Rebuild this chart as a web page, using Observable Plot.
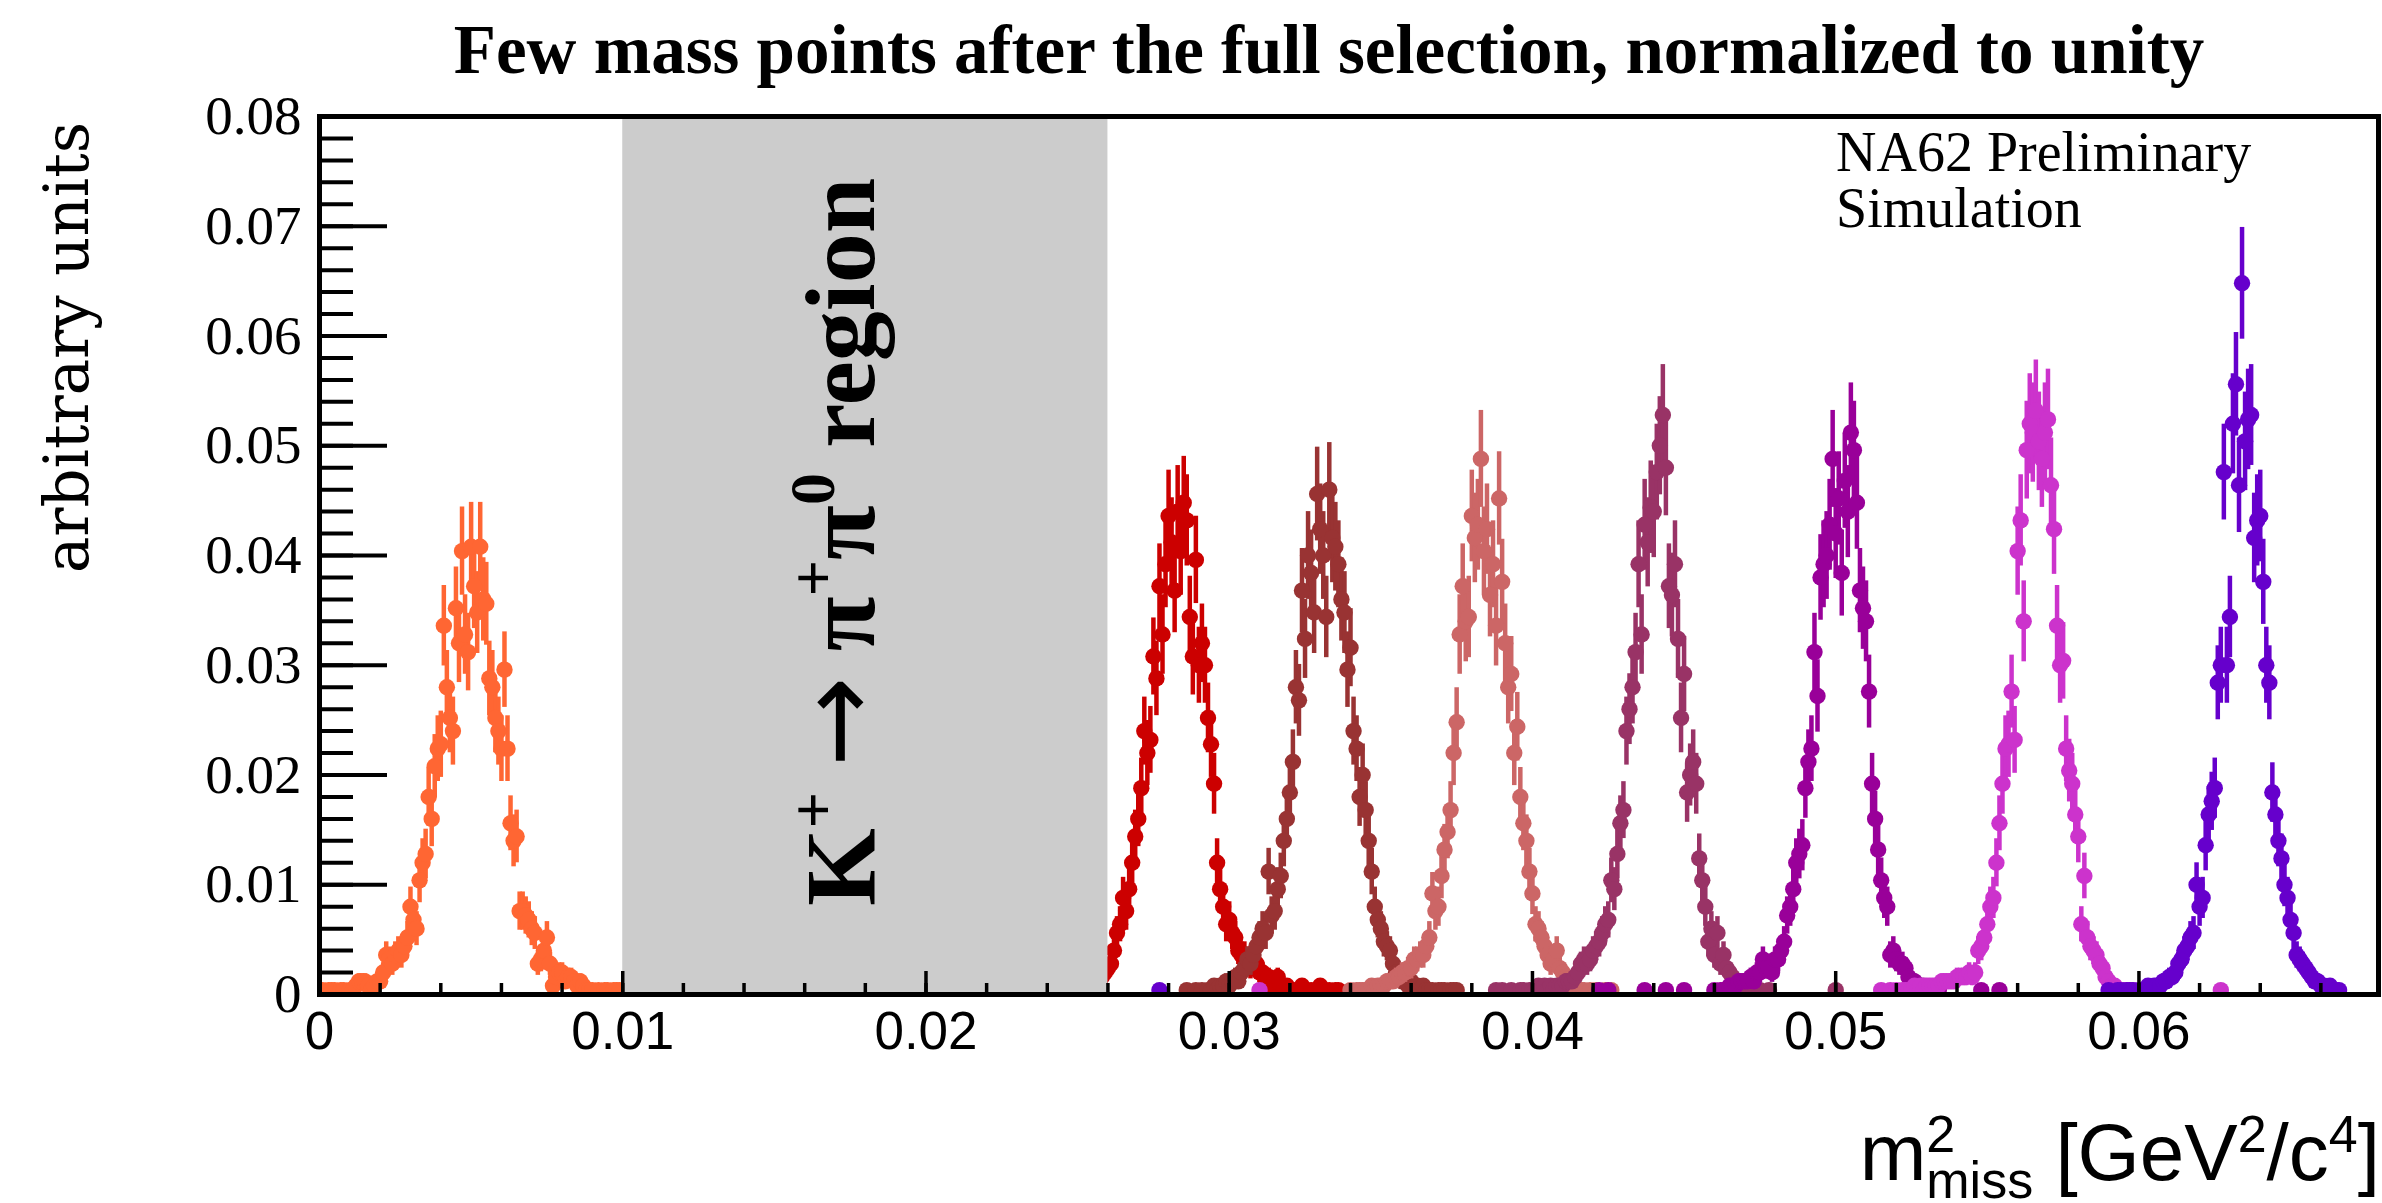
<!DOCTYPE html>
<html>
<head>
<meta charset="utf-8">
<script src="https://cdn.jsdelivr.net/npm/d3@7"></script>
<script src="https://cdn.jsdelivr.net/npm/@observablehq/plot@0.6"></script>
<style>
  html, body { margin: 0; padding: 0; background: #ffffff; overflow: hidden; }
  #title {
    height: 100px; width: 2382px; box-sizing: border-box;
    padding-left: 276px; padding-top: 16px;
    text-align: center; white-space: nowrap;
    font-family: "Liberation Serif", serif; font-weight: bold; font-size: 69px; line-height: 1;
    color: #000;
  }
  #chart svg { display: block; }
</style>
</head>
<body>
<div id="title">Few mass points after the full selection, normalized to unity</div>
<div id="chart"></div>
<script>
// ---------------- data ----------------
const binWidth = 0.0001;          // GeV^2/c^4 per bin
const eventWeight = 0.0004;       // normalized weight of one simulated event (from error-bar sizes)

const seriesColors = ["#ff6633", "#cc0000", "#993333", "#cc6666", "#993366", "#990099", "#cc33cc", "#6600cc"];
const seriesFirstBin = [0, 258, 286, 340, 388, 460, 515, 590];

// event counts per bin, consecutive bins starting at seriesFirstBin
const countsMass1 = [1,1,0,1,1,1,0,1,1,0, 1,1,2,3,3,3,2,1,2,3, 3,5,9,8,7,9,10,9,11,13, 20,17,15,26,30,32,45,40,52,56,
  57,84,70,63,60,88,80,101,82,78, 102,93,87,102,90,89,72,70,63,60, 56,74,56,39,35,36,19,19,18,17,
  15,14,7,8,10,13,7,2,4,5, 5,3,4,4,3,2,3,2,1,1, 1,0,1,0,1,1,0,1,1,1];
const countsMass2 = [4,5,6,7,10,14,16,22,19,24, 30,36,40,47,60,55,58,77,72,93, 82,98,109,103,92,110,101,112,108,86,
  77,99,75,80,75,63,57,48,30,24, 20,16,17,14,13,10,9,9,8,6, 8,7,5,5,3,4,2,3,4,2, 1,2,1,0,1,1,2,1,0,1, 0,1,2,1,0,1,0,1,1];
const countsMass3 = [1,0,0,1,0,1,0,1,1,2, 1,2,2,3,2,3,4,3,5,6, 8,7,9,11,13,15,14,28,18,19, 24,27,35,40,46,53,70,67,92,81,
  100,96,87,114,106,100,86,115,104,102, 98,90,87,74,79,60,56,45,50,42, 35,28,20,17,15,12,11,10,7,5,
  4,3,4,2,3,2,2,1,2,1, 1,1,0,1,1,1,0,1,1,1];
const countsMass4 = [1,0,1,1,1,1,1,2,1,2, 2,2,3,3,3,4,4,5,5,6, 6,8,8,9,9,11,13,23,19,20, 27,33,37,42,55,62,82,93,85,86,
  109,104,107,122,101,106,91,98,84,113, 94,80,70,73,55,61,45,39,35,28, 23,16,15,13,11,9,7,8,10,6,
  5,4,3,2,2,1,1,1,0,1, 0,1,0,0,1,0,1];
const countsMass5 = [1,0,1,0,0,1,0,0,1,1, 0,1,1,1,2,1,2,1,2,1, 2,2,2,3,3,3,4,5,7,8, 7,8,10,11,12,14,16,17,26,24,
  32,39,42,60,65,70,78,98,82,107, 103,111,110,119,125,132,120,93,91,98, 81,63,73,46,50,53,48,31,26,20,
  12,15,9,14,7,9,6,5,4,3, 2,2,1,1,0,1,0,1,0,0, 1];
const countsMass6 = [1,0,1,1,1,2,2,2,3,3, 3,3,4,3,5,5,8,6,6,5, 8,8,10,12,18,20,24,30,32,34, 47,53,56,78,68,95,98,100,107,122,
  105,113,96,117,110,128,124,112,92,88, 85,69,48,40,33,26,22,20,9,10, 8,7,7,6,4,3,3,2,2,2, 1,1,1,0,1];
const countsMass7 = [1,0,0,1,0,1,0,1,1,1, 1,2,1,2,1,2,2,2,2,2, 3,3,3,3,3,4,4,4,4,5, 4,5,10,11,13,16,20,22,30,39,
  48,56,57,69,58,101,108,85,124,130, 128,133,126,122,128,131,116,106,84,75, 76,56,51,48,41,36,16,27,13,11,
  10,9,7,6,4,3,2,2,1,1, 1,1,0,1];
const countsMass8 = [1,0,0,1,1,0,1,1,1,0, 1,1,1,2,1,2,2,2,3,3, 4,4,5,7,8,10,11,13,14,25, 20,22,34,41,44,47,71,75,119,75,
  86,130,139,116,162,126,131,132,104,108, 109,94,75,71,46,41,35,31,25,22, 17,14,9,8,7,6,5,4,3,3,
  2,2,1,2,1,1,1];
const seriesCounts = [countsMass1, countsMass2, countsMass3, countsMass4, countsMass5, countsMass6, countsMass7, countsMass8];

// isolated single-event bins far from the peaks
const strayEntrySeries = [5, 5, 5, 5, 5, 5, 5, 6, 6, 7, 4];
const strayEntryBin    = [422, 425, 437, 444, 450, 548, 554, 310, 627, 277, 500];

const shadedRegion = [0.010, 0.026];
const xTickValues = [0, 0.01, 0.02, 0.03, 0.04, 0.05, 0.06];
const xTickLabels = ["0", "0.01", "0.02", "0.03", "0.04", "0.05", "0.06"];
const yTickValues = [0, 0.01, 0.02, 0.03, 0.04, 0.05, 0.06, 0.07, 0.08];
const yTickLabels = ["0", "0.01", "0.02", "0.03", "0.04", "0.05", "0.06", "0.07", "0.08"];
const xDomain = [0, 0.0679];
const yDomain = [0, 0.08];
const regionLabelPos = [0.0183, 0.0412];

// ---------------- build ----------------
function entry(bin, c) {
  const y = c * eventWeight, e = Math.sqrt(c) * eventWeight;
  return {x: bin * binWidth, y, lo: y - e, hi: y + e};
}
const seriesPoints = seriesCounts.map((counts, k) => {
  const pts = [];
  counts.forEach((c, i) => { if (c > 0) pts.push(entry(seriesFirstBin[k] + i, c)); });
  strayEntrySeries.forEach((s, j) => { if (s === k) pts.push(entry(strayEntryBin[j], 1)); });
  return pts;
});

const xMinor = d3.range(0, 34).map(i => i * 0.002);
const yMinor = d3.range(0, 41).map(i => i * 0.002);

const marks = [];
seriesPoints.forEach((pts, k) => {
  marks.push(Plot.ruleX(pts, {x: "x", y1: "lo", y2: "hi", stroke: seriesColors[k], strokeWidth: 4.5, clip: true}));
  marks.push(Plot.dot(pts, {x: "x", y: "y", r: 8.2, fill: seriesColors[k], clip: true}));
});
marks.push(Plot.rect([shadedRegion], {x1: d => d[0], x2: d => d[1], y1: yDomain[0], y2: yDomain[1], fill: "#cccccc"}));
// ticks (inside, ROOT style)
marks.push(Plot.ruleX(xMinor, {x: d => d, y1: 0, y2: 0, insetTop: -11, stroke: "#000", strokeWidth: 3.5}));
marks.push(Plot.ruleX(xTickValues, {x: d => d, y1: 0, y2: 0, insetTop: -23, stroke: "#000", strokeWidth: 3.5}));
marks.push(Plot.ruleY(yMinor, {y: d => d, x1: 0, x2: 0, insetRight: -34, stroke: "#000", strokeWidth: 4}));
marks.push(Plot.ruleY(yTickValues, {y: d => d, x1: 0, x2: 0, insetRight: -68, stroke: "#000", strokeWidth: 4}));
marks.push(Plot.frame({stroke: "#000", strokeWidth: 5}));
// tick labels
marks.push(Plot.text(xTickValues, {x: d => d, y: 0, text: (d, i) => xTickLabels[i], dy: 17, lineAnchor: "top",
  fontSize: 53, fontFamily: "Liberation Sans, Arial, sans-serif", fill: "#000"}));
marks.push(Plot.text(yTickValues, {x: 0, y: d => d, text: (d, i) => yTickLabels[i], dx: -18, textAnchor: "end",
  fontSize: 55, fontFamily: "Liberation Serif, serif", fill: "#000"}));

const W = 2382, H = 1103;
const plot = Plot.plot({
  width: W, height: H,
  marginLeft: 319, marginRight: 4, marginTop: 16, marginBottom: 209,
  x: {domain: xDomain, axis: null},
  y: {domain: yDomain, axis: null},
  style: {background: "#ffffff", overflow: "visible"},
  marks
});
document.getElementById("chart").appendChild(plot);

// ---------------- annotations with super/subscripts ----------------
const svg = d3.select(plot);
const sx = plot.scale("x"), sy = plot.scale("y");

// K+ -> pi+ pi0 region (rotated, bold)
const kx = sx.apply(regionLabelPos[0]), ky = sy.apply(regionLabelPos[1]);
const kt = svg.append("text")
  .attr("transform", `translate(${kx},${ky}) rotate(-90)`)
  .attr("text-anchor", "middle")
  .attr("font-family", "Liberation Serif, serif")
  .attr("font-weight", "bold")
  .attr("font-size", 100)
  .attr("fill", "#000");
kt.append("tspan").text("K");
kt.append("tspan").attr("font-size", 64).attr("dy", -40).text("+");
kt.append("tspan").attr("dy", 40).text(" ");
kt.append("tspan").attr("font-family", "DejaVu Sans, sans-serif").attr("font-weight", "normal").attr("font-size", 108).text("\u2192");
kt.append("tspan").text(" \u03c0");
kt.append("tspan").attr("font-size", 64).attr("dy", -40).text("+");
kt.append("tspan").attr("dy", 40).text("\u03c0");
kt.append("tspan").attr("font-size", 64).attr("dy", -40).text("0");
kt.append("tspan").attr("dy", 40).text(" region");

// NA62 Preliminary / Simulation
const na = svg.append("text")
  .attr("text-anchor", "start")
  .attr("font-family", "Liberation Serif, serif")
  .attr("font-size", 56)
  .attr("fill", "#000");
na.append("tspan").attr("x", 1836).attr("y", 71).text("NA62 Preliminary");
na.append("tspan").attr("x", 1836).attr("y", 127).text("Simulation");

// x-axis title
const xl = svg.append("text")
  .attr("x", 2380).attr("y", 1080)
  .attr("text-anchor", "end")
  .attr("font-family", "Liberation Sans, Arial, sans-serif")
  .attr("font-size", 80)
  .attr("fill", "#000");
xl.append("tspan").text("m");
xl.append("tspan").attr("font-size", 52).attr("dy", -28).text("2");
xl.append("tspan").attr("font-size", 52).attr("dx", -29).attr("dy", 46).text("miss");
xl.append("tspan").attr("dy", -18).text(" [GeV");
xl.append("tspan").attr("font-size", 52).attr("dy", -28).text("2");
xl.append("tspan").attr("dy", 28).text("/c");
xl.append("tspan").attr("font-size", 52).attr("dy", -28).text("4");
xl.append("tspan").attr("dy", 28).text("]");

// y-axis title
svg.append("text")
  .attr("transform", "translate(88,22) rotate(-90)")
  .attr("text-anchor", "end")
  .attr("font-family", "DejaVu Serif, serif")
  .attr("font-size", 61)
  .attr("fill", "#000")
  .text("arbitrary units");
</script>
</body>
</html>
